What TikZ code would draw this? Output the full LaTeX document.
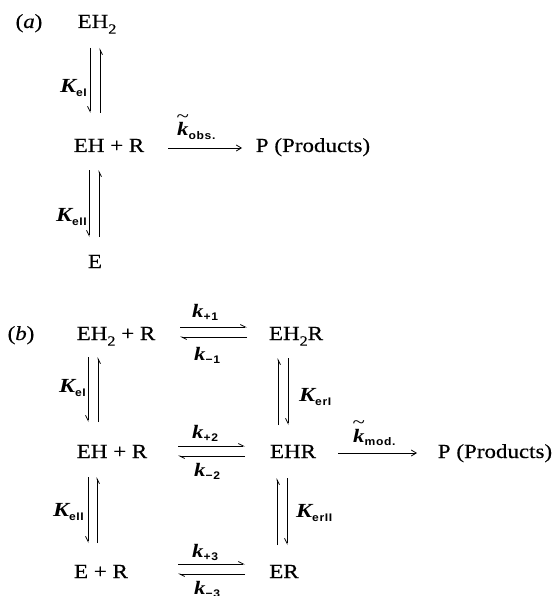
\documentclass[tikz,border=0pt]{standalone}
\usepackage{fontspec}
\setmainfont{Liberation Serif}[FakeStretch=1.15,FakeBold=0.4]
\newfontfamily\labfont{Liberation Serif}[FakeStretch=1.2]
\newfontfamily\subfont{Liberation Sans}[FakeStretch=1.1,LetterSpace=6]
\usetikzlibrary{arrows.meta}
\newcommand\sub[1]{\raisebox{-0.28em}{\fontsize{14}{14}\selectfont #1}}
\newcommand\lsub[1]{\raisebox{-0.2em}{\subfont\fontsize{11}{11}\selectfont\bfseries\upshape #1}}
\newcommand\mn{\char"2212\relax}
\newcommand\KK[1]{{\labfont\fontsize{20}{20}\selectfont\bfseries\itshape K\lsub{#1}}}
\newcommand\kk[1]{{\labfont\fontsize{19}{19}\selectfont\bfseries\itshape k\lsub{#1}}}
\newcommand\tk[1]{{\labfont\fontsize{19}{19}\selectfont\bfseries\itshape \ooalign{k\cr\hidewidth\raisebox{0.72em}{\upshape\mdseries\textasciitilde}\hidewidth\cr}\lsub{#1}}}
\tikzset{
  chem/.style={inner sep=0pt, anchor=base, font=\fontsize{20}{24}\selectfont},
  lab/.style={inner sep=0pt},
  hl/.style={line width=0.8pt, -{Straight Barb[left,length=5pt,width=5pt]}},
  hr/.style={line width=0.8pt, -{Straight Barb[right,length=5pt,width=5pt]}},
  fwd/.style={line width=0.8pt, -{Straight Barb[length=5pt,width=6pt]}},
}
\begin{document}
\begin{tikzpicture}[x=1pt,y=-1pt]
\useasboundingbox (0,0) rectangle (558,596);
% ---------- (a)
\node[chem] (la) at (29,28) {(\textit{a})};
\node[chem] (a1) at (97,28) {EH\sub{2}};
\node[chem] (a2) at (109,152) {EH + R};
\node[chem] (a3) at (313,152) {P (Products)};
\node[chem] (a4) at (95,268) {E};
\node[lab,anchor=east] (ka1) at (87,88) {\KK{eI}};
\node[lab,anchor=east] (ka2) at (87,217) {\KK{eII}};
\node[lab,anchor=base west] (kobs) at (177,136) {\tk{obs.}};
\coordinate (a1L) at (90,48);  \coordinate (a2L) at (90,113);
\coordinate (a1R) at (100,48); \coordinate (a2R) at (100,113);
\draw[hr] (a1L) -- (a2L);
\draw[hr] (a2R) -- (a1R);
\coordinate (a2L') at (89,170); \coordinate (a4L) at (89,237);
\coordinate (a2R') at (99,170); \coordinate (a4R) at (99,237);
\draw[hr] (a2L') -- (a4L);
\draw[hr] (a4R) -- (a2R');
\coordinate (ao1) at (168,148); \coordinate (ao2) at (242,148);
\draw[fwd] (ao1) -- (ao2);
% ---------- (b)
\node[chem] (lb) at (21,340) {(\textit{b})};
\node[chem] (b1) at (116,340) {EH\sub{2} + R};
\node[chem] (b2) at (112,458) {EH + R};
\node[chem] (b3) at (101,578) {E + R};
\node[chem] (c1) at (296,340) {EH\sub{2}R};
\node[chem] (c2) at (293,458) {EHR};
\node[chem] (c3) at (284,578) {ER};
\node[chem] (pb) at (495,458) {P (Products)};
\node[lab,anchor=east] (kb1) at (86,388) {\KK{eI}};
\node[lab,anchor=east] (kb2) at (84,512) {\KK{eII}};
\node[lab,anchor=west] (kc1) at (299,397) {\KK{erI}};
\node[lab,anchor=west] (kc2) at (296,513) {\KK{erII}};
\node[lab,anchor=base west] (kp1) at (192,317) {\kk{+1}};
\node[lab,anchor=base west] (km1) at (194,360) {\kk{\mn 1}};
\node[lab,anchor=base west] (kp2) at (192,438) {\kk{+2}};
\node[lab,anchor=base west] (km2) at (194,476) {\kk{\mn 2}};
\node[lab,anchor=base west] (kp3) at (192,557) {\kk{+3}};
\node[lab,anchor=base west] (km3) at (194,594) {\kk{\mn 3}};
\node[lab,anchor=base west] (kmod) at (353,442) {\tk{mod.}};
% horizontal pairs
\coordinate (h1a) at (180,327); \coordinate (h1b) at (247,327);
\coordinate (h1c) at (180,337); \coordinate (h1d) at (247,337);
\draw[hl] (h1a) -- (h1b); \draw[hl] (h1d) -- (h1c);
\coordinate (h2a) at (178,446); \coordinate (h2b) at (245,446);
\coordinate (h2c) at (178,456); \coordinate (h2d) at (245,456);
\draw[hl] (h2a) -- (h2b); \draw[hl] (h2d) -- (h2c);
\coordinate (h3a) at (178,564); \coordinate (h3b) at (245,564);
\coordinate (h3c) at (178,574); \coordinate (h3d) at (245,574);
\draw[hl] (h3a) -- (h3b); \draw[hl] (h3d) -- (h3c);
% left vertical pairs
\coordinate (v1a) at (88,357); \coordinate (v1b) at (88,422);
\coordinate (v1c) at (98,357); \coordinate (v1d) at (98,422);
\draw[hr] (v1a) -- (v1b); \draw[hr] (v1d) -- (v1c);
\coordinate (v2a) at (88,477); \coordinate (v2b) at (88,543);
\coordinate (v2c) at (97,477); \coordinate (v2d) at (97,543);
\draw[hr] (v2a) -- (v2b); \draw[hr] (v2d) -- (v2c);
% right vertical pairs
\coordinate (w1a) at (278,358); \coordinate (w1b) at (278,425);
\coordinate (w1c) at (288,358); \coordinate (w1d) at (288,425);
\draw[hr] (w1b) -- (w1a); \draw[hr] (w1c) -- (w1d);
\coordinate (w2a) at (277,478); \coordinate (w2b) at (277,545);
\coordinate (w2c) at (287,478); \coordinate (w2d) at (287,545);
\draw[hr] (w2b) -- (w2a); \draw[hr] (w2c) -- (w2d);
% k_mod arrow
\coordinate (m1) at (338,453); \coordinate (m2) at (417,453);
\draw[fwd] (m1) -- (m2);
\end{tikzpicture}
\end{document}
